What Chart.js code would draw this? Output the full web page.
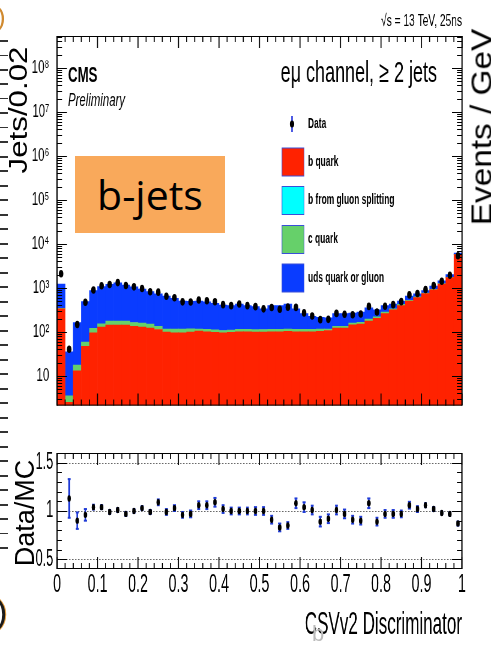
<!DOCTYPE html>
<html><head><meta charset="utf-8">
<script src="https://cdn.jsdelivr.net/npm/chart.js@4.4.1/dist/chart.umd.min.js"></script>
<style>
html,body{margin:0;padding:0;background:#fff;width:491px;height:645px;overflow:hidden;}
body{position:relative;font-family:"Liberation Sans",Arial,sans-serif;}
canvas{position:absolute;left:0;transform-origin:0 0;}
#c1{top:0;}
#c2{top:430px;}
.ov{position:absolute;white-space:nowrap;color:#000;}
</style></head><body>
<div class="ov" id="dashes" style="left:0;top:40px;width:8px;height:520px;background:repeating-linear-gradient(to bottom,#333 0px,#333 1.5px,transparent 1.5px,transparent 14.5px);"></div>
<canvas id="c1"></canvas>
<canvas id="c2"></canvas>
<div class="ov" style="left:75px;top:156px;width:150px;height:77px;background:#f9a95b;"></div>
<div class="ov" style="left:75px;top:156px;width:150px;height:77px;line-height:77px;text-align:center;font-family:'Open Sans',sans-serif;font-size:41px;">b-jets</div>
<div class="ov" style="left:18px;top:110px;font-size:25px;transform:translate(-50%,-50%) rotate(-90deg) scaleX(1.25);">Jets/0.02</div>
<div class="ov" style="left:482px;top:127px;font-size:29px;transform:translate(-50%,-50%) rotate(-90deg) scaleX(1.15);">Events / GeV</div>
<div class="ov" style="left:25px;top:513px;font-size:27px;transform:translate(-50%,-50%) rotate(-90deg);">Data/MC</div>
<div class="ov" style="left:-3px;top:2px;font-size:26px;color:#d08a30;">)</div>
<div class="ov" style="left:-4px;top:592px;font-size:34px;color:#1a1a1a;text-shadow:1px 0 #e8a040;">)</div>
<div class="ov" style="left:312px;top:621px;font-size:22px;color:#bbb;">b</div>
<script>
// ---------------- data ----------------
const binCenters = [0.01,0.03,0.05,0.07,0.09,0.11,0.13,0.15,0.17,0.19,
  0.21,0.23,0.25,0.27,0.29,0.31,0.33,0.35,0.37,0.39,
  0.41,0.43,0.45,0.47,0.49,0.51,0.53,0.55,0.57,0.59,
  0.61,0.63,0.65,0.67,0.69,0.71,0.73,0.75,0.77,0.79,
  0.81,0.83,0.85,0.87,0.89,0.91,0.93,0.95,0.97,0.99];
const bQuark = [333,2.5,12.9,47,95,128,142,142,142,133,
  128,122,113,99,95,95,99,104,100,97,
  95,97,100,100,98,99,100,100,102,100,
  100,100,102,107,122,122,144,150,176,202,
  259,316,393,500,600,740,905,1220,1710,5660];
const bGluonSplitting = [0,0,0,0,0,0,0,0,0,0,
  0,0,0,0,0,0,0,0,0,0,
  0,0,0,0,0,0,0,0,0,0,
  0,0,0,0,0,0,0,0,0,0,
  0,0,0,0,0,0,0,0,0,0];
const cQuark = [8,1.0,4.5,11,25,24,34,34,34,30,
  29,28,20,17,21,21,18,12,14,14,
  12,13,14,14,14,14,14,14,14,14,
  14,14,14,9,11,11,13,15,19,17,
  23,16,27,20,20,20,20,25,30,50];
const udsQuark = [879,31.5,145.6,431,740,918,1024,1124,984,887,
  780,670,597,534,461,384,373,384,366,332,
  299,283,313,279,261,219,279,279,311,218,
  145,112,96,93,126,126,111,117,155,97,
  111,95,80,130,110,100,175,195,250,450];
const dataEvents = [2090,40,147,469,894,1113,1188,1313,1125,1050,
  965,812,796,644,594,480,475,530,509,483,
  414,393,427,393,373,332,358,326,363,359,
  269,228,189,192,262,251,244,254,378,281,
  381,414,485,689,745,912,1122,1411,1930,5359];
const ratioValues = [null,1.13,0.90,0.96,1.04,1.04,0.99,1.01,0.97,1.00,
  1.03,0.99,1.09,0.99,1.03,0.96,0.97,1.06,1.06,1.09,
  1.02,1.00,1.00,1.00,1.00,1.00,0.91,0.83,0.85,1.08,
  1.04,1.01,0.89,0.92,1.01,0.97,0.91,0.90,1.08,0.89,
  0.97,0.97,0.97,1.06,1.02,1.06,1.02,0.98,0.97,0.87];
const ratioErrors = [0,0.20,0.085,0.06,0.025,0.02,0.02,0.02,0.02,0.02,
  0.02,0.02,0.03,0.03,0.03,0.03,0.035,0.04,0.04,0.045,
  0.04,0.035,0.035,0.035,0.04,0.04,0.04,0.04,0.035,0.05,
  0.05,0.045,0.05,0.045,0.045,0.045,0.04,0.04,0.05,0.04,
  0.04,0.04,0.035,0.035,0.03,0.02,0.02,0.015,0.015,0.02];
const xTickLabels = ['0','0.1','0.2','0.3','0.4','0.5','0.6','0.7','0.8','0.9','1'];
const yDecadeLabels = ['1','10','10²','10³','10⁴','10⁵','10⁶','10⁷','10⁸'];
const ratioTickLabels = {5:'0.5',10:'1',15:'1.5'};
const seriesNames = ['Data','b quark','b from gluon splitting','c quark','uds quark or gluon'];
const seriesColors = ['#000000','#ff2200','#00ffff','#66d06a','#0a3cff'];
const texts = {sqrt:'√s = 13 TeV, 25ns', cms:'CMS', prelim:'Preliminary', channel:'eμ channel, ≥ 2 jets', xTitle:'CSVv2 Discriminator'};

// ---------------- layout ----------------
const FONT = '"Liberation Sans", Arial, Helvetica, sans-serif';
Chart.defaults.font.family = FONT;
const W1 = 818, H1 = 430, K1 = 491 / W1;
const W2 = 893, H2 = 215, K2 = 491 / W2;
const PL = 57, PR = 462;

function setupCanvas(id, W, H, K) {
  const c = document.getElementById(id);
  c.width = W; c.height = H;
  c.style.width = W + 'px'; c.style.height = H + 'px';
  c.style.transform = 'scaleX(' + K + ')';
  return c;
}
const c1 = setupCanvas('c1', W1, H1, K1);
const c2 = setupCanvas('c2', W2, H2, K2);

function drawFrame(ctx, a, K) {
  ctx.save();
  ctx.strokeStyle = '#000';
  ctx.lineWidth = 1;
  ctx.beginPath();
  ctx.moveTo(a.left, a.top + 0.5); ctx.lineTo(a.right, a.top + 0.5);
  ctx.moveTo(a.left, a.bottom - 0.5); ctx.lineTo(a.right, a.bottom - 0.5);
  ctx.stroke();
  ctx.lineWidth = 1.2 / K;
  ctx.beginPath();
  ctx.moveTo(a.left, a.top); ctx.lineTo(a.left, a.bottom);
  ctx.moveTo(a.right, a.top); ctx.lineTo(a.right, a.bottom);
  ctx.stroke();
  ctx.restore();
}
function drawXTicks(ctx, a, xs, K, minorLen, majorLen) {
  ctx.save();
  ctx.strokeStyle = '#000';
  ctx.lineWidth = 1 / K;
  ctx.beginPath();
  for (let i = 0; i <= 50; i++) {
    const px = xs.getPixelForValue(i / 50);
    const L = i % 5 === 0 ? majorLen : minorLen;
    ctx.moveTo(px, a.bottom); ctx.lineTo(px, a.bottom - L);
    ctx.moveTo(px, a.top); ctx.lineTo(px, a.top + L);
  }
  ctx.stroke();
  ctx.restore();
}
function drawYTicks(ctx, a, ys, list, K, minorLen, majorLen) {
  ctx.save();
  ctx.strokeStyle = '#000';
  ctx.lineWidth = 1;
  ctx.beginPath();
  list.forEach(t => {
    const py = Math.round(ys.getPixelForValue(t.v)) + 0.5;
    if (py < a.top || py > a.bottom) return;
    const L = (t.major ? majorLen : minorLen) / K;
    ctx.moveTo(a.left, py); ctx.lineTo(a.left + L, py);
    ctx.moveTo(a.right, py); ctx.lineTo(a.right - L, py);
  });
  ctx.stroke();
  ctx.restore();
}
function txt(ctx, s, xScreen, y, K, font, align) {
  ctx.font = font; ctx.fillStyle = '#000';
  ctx.textAlign = align; ctx.textBaseline = 'alphabetic';
  ctx.fillText(s, xScreen / K, y);
}

const mainDecor = {
  id: 'mainDecor',
  afterDraw(chart) {
    const {ctx, chartArea: a, scales: {x, y}} = chart;
    drawFrame(ctx, a, K1);
    drawXTicks(ctx, a, x, K1, 6, 12);
    const yt = [];
    for (let n = 0; n <= 8; n++) for (let m = 1; m <= 9; m++) {
      const v = m * Math.pow(10, n);
      if (v >= y.min && v <= y.max) yt.push({v, major: m === 1});
    }
    drawYTicks(ctx, a, y, yt, K1, 5, 10);
    ctx.save();
    txt(ctx, texts.sqrt, 462, 26, K1, '17px ' + FONT, 'right');
    txt(ctx, texts.cms, 68, 82, K1, 'bold 22px ' + FONT, 'left');
    txt(ctx, texts.prelim, 68, 106, K1, 'italic 19px ' + FONT, 'left');
    txt(ctx, texts.channel, 437, 82, K1, '30px ' + FONT, 'right');
    // legend
    const lx = 292 / K1;
    ctx.strokeStyle = '#2233dd'; ctx.lineWidth = 1.5 / K1;
    ctx.beginPath(); ctx.moveTo(lx, 116); ctx.lineTo(lx, 132); ctx.stroke();
    ctx.fillStyle = '#000';
    ctx.beginPath(); ctx.arc(lx, 124, 3.6, 0, Math.PI * 2); ctx.fill();
    const rows = [124, 162, 200.5, 239.5, 278];
    ctx.font = 'bold 14px ' + FONT; ctx.textBaseline = 'middle'; ctx.textAlign = 'left';
    rows.forEach((ry, i) => {
      if (i > 0) {
        ctx.fillStyle = seriesColors[i];
        ctx.fillRect(282 / K1, ry - 14, 22 / K1, 28);
        ctx.strokeStyle = '#3a4fd8'; ctx.lineWidth = 1;
        ctx.strokeRect(282 / K1, ry - 14, 22 / K1, 28);
      }
      ctx.fillStyle = '#000';
      ctx.fillText(seriesNames[i], 308 / K1, ry);
    });
    ctx.restore();
  }
};

const ratioDecor = {
  id: 'ratioDecor',
  beforeDatasetsDraw(chart) {
    const {ctx, chartArea: a, scales: {x, y}} = chart;
    ctx.save();
    ctx.strokeStyle = '#666'; ctx.lineWidth = 1;
    ctx.setLineDash([1.5 / K2, 1.5 / K2]);
    [0.5, 1.0, 1.5].forEach(v => {
      const py = Math.round(y.getPixelForValue(v)) + 0.5;
      ctx.beginPath(); ctx.moveTo(a.left, py); ctx.lineTo(a.right, py); ctx.stroke();
    });
    ctx.setLineDash([]);
    ctx.strokeStyle = '#1f3bd6'; ctx.fillStyle = '#1f3bd6';
    ctx.lineWidth = 1.6 / K2;
    binCenters.forEach((c, i) => {
      const r = ratioValues[i];
      if (r === null || !ratioErrors[i]) return;
      const px = x.getPixelForValue(c);
      const p1 = y.getPixelForValue(r + ratioErrors[i]);
      const p2 = y.getPixelForValue(r - ratioErrors[i]);
      ctx.beginPath(); ctx.moveTo(px, p1); ctx.lineTo(px, p2); ctx.stroke();
      ctx.fillRect(px - 1.5 / K2, p1 - 1, 3 / K2, 2);
      ctx.fillRect(px - 1.5 / K2, p2 - 1, 3 / K2, 2);
    });
    ctx.restore();
  },
  afterDraw(chart) {
    const {ctx, chartArea: a, scales: {x, y}} = chart;
    drawFrame(ctx, a, K2);
    drawXTicks(ctx, a, x, K2, 6, 12);
    const yt = [];
    for (let i = 4; i <= 16; i++) yt.push({v: i / 10, major: i % 5 === 0});
    drawYTicks(ctx, a, y, yt, K2, 5, 10);
  }
};

new Chart(c1, {
  type: 'bar',
  data: {
    datasets: [
      {type: 'line', label: seriesNames[0], order: 0,
       data: binCenters.map((x, i) => ({x, y: dataEvents[i]})),
       showLine: false, pointRadius: 3.8, pointBackgroundColor: '#000', pointBorderColor: '#000', pointBorderWidth: 0},
      {label: seriesNames[1], order: 1, stack: 'mc', backgroundColor: seriesColors[1],
       data: binCenters.map((x, i) => ({x, y: bQuark[i]}))},
      {label: seriesNames[2], order: 1, stack: 'mc', backgroundColor: seriesColors[2],
       data: binCenters.map((x, i) => ({x, y: bGluonSplitting[i]}))},
      {label: seriesNames[3], order: 1, stack: 'mc', backgroundColor: seriesColors[3],
       data: binCenters.map((x, i) => ({x, y: cQuark[i]}))},
      {label: seriesNames[4], order: 1, stack: 'mc', backgroundColor: seriesColors[4],
       data: binCenters.map((x, i) => ({x, y: udsQuark[i]}))}
    ]
  },
  options: {
    responsive: false, animation: false, devicePixelRatio: 1,
    layout: {padding: {left: 0, right: W1 - PR / K1, top: 36, bottom: 8}},
    plugins: {legend: {display: false}, tooltip: {enabled: false}},
    datasets: {bar: {barPercentage: 1, categoryPercentage: 1, borderWidth: 0}},
    scales: {
      x: {type: 'linear', min: 0, max: 1, offset: false, display: false, stacked: true},
      y: {type: 'logarithmic', min: 2.1, max: 5.3e8, stacked: true,
          afterFit(s) { s.width = PL / K1; },
          grid: {display: false, drawTicks: false}, border: {display: false},
          ticks: {autoSkip: false, padding: 13, color: '#000', font: {size: 19},
            callback(v) {
              const l = Math.log10(v), r = Math.round(l);
              if (Math.abs(l - r) < 1e-6 && r >= 1 && r < yDecadeLabels.length) return yDecadeLabels[r];
              return '';
            }}}
    }
  },
  plugins: [mainDecor]
});

new Chart(c2, {
  type: 'line',
  data: {
    datasets: [{label: 'Data/MC', data: binCenters.map((x, i) => ({x, y: ratioValues[i]})),
      showLine: false, pointRadius: 3.2, pointBackgroundColor: '#000', pointBorderColor: '#000', pointBorderWidth: 0}]
  },
  options: {
    responsive: false, animation: false, devicePixelRatio: 1,
    layout: {padding: {left: 0, right: W2 - PR / K2, top: 23, bottom: 0}},
    plugins: {legend: {display: false}, tooltip: {enabled: false}},
    scales: {
      x: {type: 'linear', min: 0, max: 1, offset: false,
          afterFit(s) { s.height = 76; },
          grid: {display: false, drawTicks: false}, border: {display: false},
          ticks: {stepSize: 0.1, autoSkip: false, maxRotation: 0, padding: 0, color: '#000', font: {size: 26},
            callback(v) { return xTickLabels[Math.round(v * 10)]; }},
          title: {display: true, text: texts.xTitle, align: 'end', color: '#000', font: {size: 31}, padding: {top: 0, bottom: 1}}},
      y: {type: 'linear', min: 0.4, max: 1.6,
          afterFit(s) { s.width = PL / K2; },
          grid: {display: false, drawTicks: false}, border: {display: false},
          ticks: {stepSize: 0.1, autoSkip: false, padding: 7, color: '#000', font: {size: 23},
            callback(v) { const k = Math.round(v * 10); return ratioTickLabels[k] || ''; }}}
    }
  },
  plugins: [ratioDecor]
});
</script>
</body></html>
